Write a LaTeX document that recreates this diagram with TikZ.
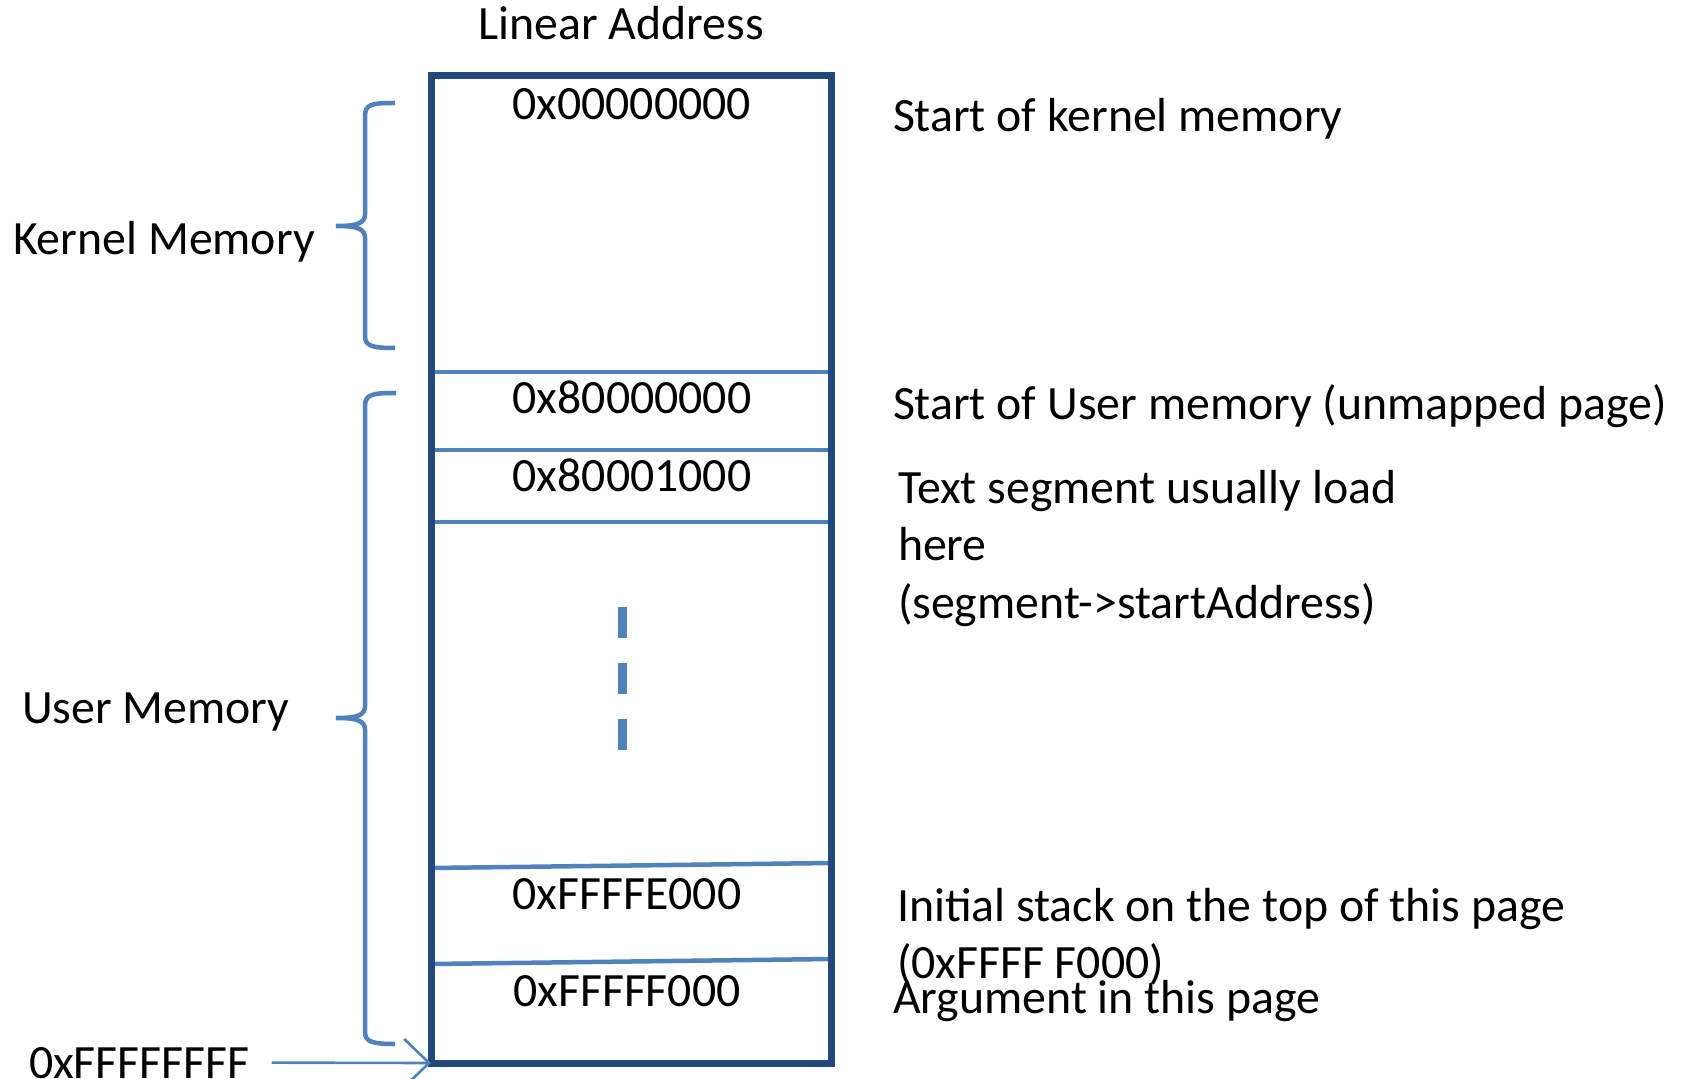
\documentclass[tikz,border=0pt]{standalone}
\usepackage{fontspec}
\setmainfont{Carlito}
\usetikzlibrary{arrows.meta}
\definecolor{boxblue}{RGB}{34,72,124}
\definecolor{lineblue}{RGB}{79,129,189}
\newcommand{\mlines}[1]{\begin{tabular}[t]{@{}l@{}}#1\end{tabular}}
\tikzset{
  x=0.5pt, y=-0.5pt,
  txt/.style={inner sep=0, outer sep=0, anchor=base west, font=\fontsize{23.9}{28.75}\selectfont},
  ctxt/.style={txt, anchor=base},
  sep/.style={draw=lineblue, line width=2.25pt},
  brace/.style={draw=lineblue, line width=2.25pt},
  memcol/.style={draw=boxblue, line width=3.5pt, rectangle, inner sep=0, outer sep=0,
    minimum width=200pt, minimum height=493.5pt},
}
\begin{document}
\begin{tikzpicture}
\useasboundingbox (0,0) rectangle (1685,1079);
% separators
\coordinate (l1a) at (431,372); \coordinate (l1b) at (831,372);
\coordinate (l2a) at (431,450); \coordinate (l2b) at (831,450);
\coordinate (l3a) at (431,522); \coordinate (l3b) at (831,522);
\coordinate (l4a) at (431,868); \coordinate (l4b) at (831,863);
\coordinate (l5a) at (431,964); \coordinate (l5b) at (831,959);
\draw[sep] (l1a) -- (l1b);
\draw[sep] (l2a) -- (l2b);
\draw[sep] (l3a) -- (l3b);
\draw[sep] (l4a) -- (l4b);
\draw[sep] (l5a) -- (l5b);
% memory column
\node[memcol] (box) at (631,569.5) {};
% dashed continuation
\coordinate (d1) at (622,607); \coordinate (d2) at (622,750);
\draw[draw=lineblue, line width=4.5pt, dash pattern=on 15.5pt off 12.5pt] (d1) -- (d2);
% title
\node[ctxt] (title) at (621,40) {Linear Address};
% addresses in the column
\node[ctxt] (a0) at (631.5,120) {0x00000000};
\node[ctxt] (a8) at (632,414) {0x80000000};
\node[ctxt] (a81) at (632,492) {0x80001000};
\node[ctxt] (aE) at (627,909) {0xFFFFE000};
\node[ctxt] (aF) at (627,1006) {0xFFFFF000};
% braces
\draw[brace] (395,103) .. controls (372,103) and (365,104) .. (365,116) -- (365,214)
  .. controls (365,223) and (358,226) .. (336,226)
  .. controls (358,226) and (365,229) .. (365,238) -- (365,336)
  .. controls (365,346) and (372,348) .. (395,348);
\draw[brace] (396,393) .. controls (373,393) and (365,394) .. (365,406) -- (365,706)
  .. controls (365,715) and (358,718) .. (336,718)
  .. controls (358,718) and (365,721) .. (365,730) -- (365,1032)
  .. controls (365,1042) and (373,1044) .. (395,1044);
% left labels
\node[txt] (km) at (13,255) {Kernel Memory};
\node[txt] (um) at (22,723) {User Memory};
\node[txt] (ff) at (29,1078) {0xFFFFFFFF};
\draw[draw=lineblue, line width=1.3pt, -{Straight Barb[length=12.5pt, width=24pt, line width=1.3pt]}]
  ([xshift=11pt]ff.east) -- (box.south west);
% right labels
\node[txt] (r1) at (893,132) {Start of kernel memory};
\node[txt] (r2) at (893,420) {Start of User memory (unmapped page)};
\node[txt] (r3) at (898,503) {\mlines{Text segment usually load\\ here\\ (segment->startAddress)}};
\node[txt] (r4) at (897,921) {\mlines{Initial stack on the top of this page\\ (0xFFFF F000)}};
\node[txt] (r5) at (893,1013) {Argument in this page};
\end{tikzpicture}
\end{document}
